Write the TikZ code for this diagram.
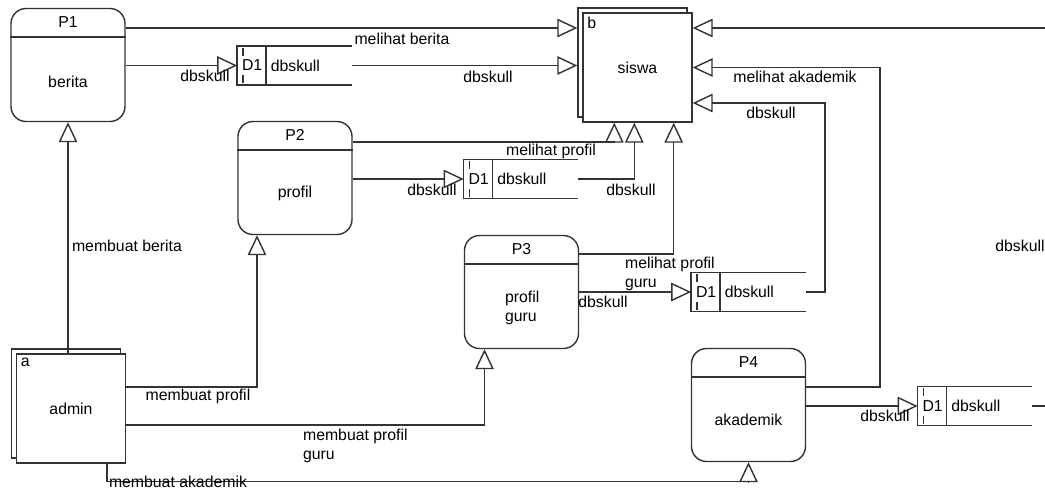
\documentclass[tikz,border=0pt]{standalone}
\usepackage{fontspec}
\setmainfont{Liberation Sans}
\usetikzlibrary{arrows.meta,shadows}
\tikzset{
  flow/.style={-{Triangle[open,length=4mm,width=3.7mm]}, line width=0.8pt, draw=black!80},
  wire/.style={line width=0.8pt, draw=black!80},
  proc/.style={draw=black!80, line width=0.8pt, rounded corners=3mm, minimum width=22.8mm, minimum height=22.6mm},
  entity/.style={draw=black!80, fill=white, line width=0.8pt, minimum width=21.8mm, minimum height=21.8mm, copy shadow={shadow xshift=-1mm, shadow yshift=1mm}},
  store/.style={minimum width=22.8mm, minimum height=7.6mm, inner sep=0pt},
  txt/.style={inner sep=1pt, align=left}
}

\begin{document}
\begin{tikzpicture}[x=0.02cm, y=-0.02cm, font=\fontsize{9}{10.5}\selectfont]
  \useasboundingbox (0,0) rectangle (1045,488);
  % processes
  \node[proc] (p1) at (68,65) {};
  \node[proc] (p2) at (295,178) {};
  \node[proc] (p3) at (521.5,292) {};
  \node[proc] (p4) at (748.5,405) {};
  \foreach \p/\t in {p1/P1, p2/P2, p3/P3, p4/P4}{
    \draw[wire] ([yshift=-5.8mm]\p.north west) -- ([yshift=-5.8mm]\p.north east);
    \node[txt] (\p h) at ([yshift=-2.8mm]\p.north) {\t};
  }
  \node[txt] (p1b) at ([yshift=-3.4mm]p1.center) {berita};
  \node[txt] (p2b) at ([yshift=-3mm]p2.center) {profil};
  \node[txt, anchor=west] (p3b) at (503,308) {profil\\guru};
  \node[txt] (p4b) at ([yshift=-3mm]p4.center) {akademik};
  % data stores
  \node[store] (s1) at (294.5,65.5) {};
  \node[store] (s2) at (521,179) {};
  \node[store] (s3) at (748.5,292) {};
  \node[store] (s4) at (975,406) {};
  \foreach \s in {s1,s2,s3,s4}{
    \draw[wire] (\s.north east) -- (\s.north west) -- (\s.south west) -- (\s.south east);
    \draw[wire] ([xshift=5.8mm]\s.north west) -- ([xshift=5.8mm]\s.south west);
    \draw[wire] ([xshift=1.2mm,yshift=-0.3mm]\s.north west) -- ([xshift=1.2mm,yshift=-1.9mm]\s.north west);
    \draw[wire] ([xshift=1.2mm,yshift=0.3mm]\s.south west) -- ([xshift=1.2mm,yshift=1.9mm]\s.south west);
    \node[txt] (\s id) at ([xshift=3mm]\s.west) {D1};
    \node[txt, anchor=west] (\s nm) at ([xshift=6.3mm]\s.west) {dbskull};
  }
  % external entities
  \node[entity] (siswa) at (637.5,67.5) {siswa};
  \node[txt, anchor=north west] (sb) at ([shift={(0.6mm,-0.6mm)}]siswa.north west) {b};
  \node[entity] (admin) at (71,408.5) {admin};
  \node[txt, anchor=north west] (aa) at ([shift={(0.6mm,-0.6mm)}]admin.north west) {a};
  \coordinate (siswaL) at ([xshift=-1mm]siswa.west);
  % flows
  \draw[flow] (p1.east |- 0,28) -- (siswaL |- 0,28);
  \draw[flow] (p1.east |- s1.west) -- (s1.west);
  \draw[flow] (s1.east) -- (siswaL |- s1.east);
  \draw[flow] (p2.east |- 0,142) -| ([xshift=6.4mm]siswa.south west);
  \draw[flow] (p2.east |- s2.west) -- (s2.west);
  \draw[flow] (s2.east) -| ([xshift=10.4mm]siswa.south west);
  \draw[flow] (p3.east |- 0,254) -| ([xshift=-3.8mm]siswa.south east);
  \draw[flow] (p3.east |- s3.west) -- (s3.west);
  \draw[flow] (s3.east) -- ++(19,0) |- (siswa.east |- 0,103);
  \draw[flow] (p4.east |- 0,387) -- (880,387) |- (siswa.east);
  \draw[flow] (p4.east |- s4.west) -- (s4.west);
  \draw[flow] (s4.east) -- (1065,406) |- (siswa.east |- 0,28);
  \draw[flow] (p1.south |- admin.north) -- (p1.south);
  \draw[flow] (admin.east |- 0,387) -| ([xshift=-7.6mm]p2.south);
  \draw[flow] (admin.east |- 0,425) -| ([xshift=-7.4mm]p3.south);
  \draw[flow] ([xshift=7.2mm]admin.south) -- ++(0,18) -| (p4.south);
  % flow labels
  \node[txt] (l1) at (402,39) {melihat berita};
  \node[txt] (l2) at (205,76) {dbskull};
  \node[txt] (l3) at (488,77) {dbskull};
  \node[txt] (l4) at (795,77) {melihat akademik};
  \node[txt] (l5) at (771,113) {dbskull};
  \node[txt] (l6) at (551,151) {melihat profil};
  \node[txt] (l7) at (432,190) {dbskull};
  \node[txt] (l8) at (631,190) {dbskull};
  \node[txt] (l9) at (1020,246) {dbskull};
  \node[txt, anchor=west] (l10) at (623,274) {melihat profil\\guru};
  \node[txt] (l11) at (603,302) {dbskull};
  \node[txt] (l12) at (127,246) {membuat berita};
  \node[txt] (l13) at (198,396) {membuat profil};
  \node[txt, anchor=west] (l14) at (301,446) {membuat profil\\guru};
  \node[txt] (l15) at (178,481.5) {membuat akademik};
  \node[txt] (l16) at (885,416) {dbskull};
\end{tikzpicture}
\end{document}
